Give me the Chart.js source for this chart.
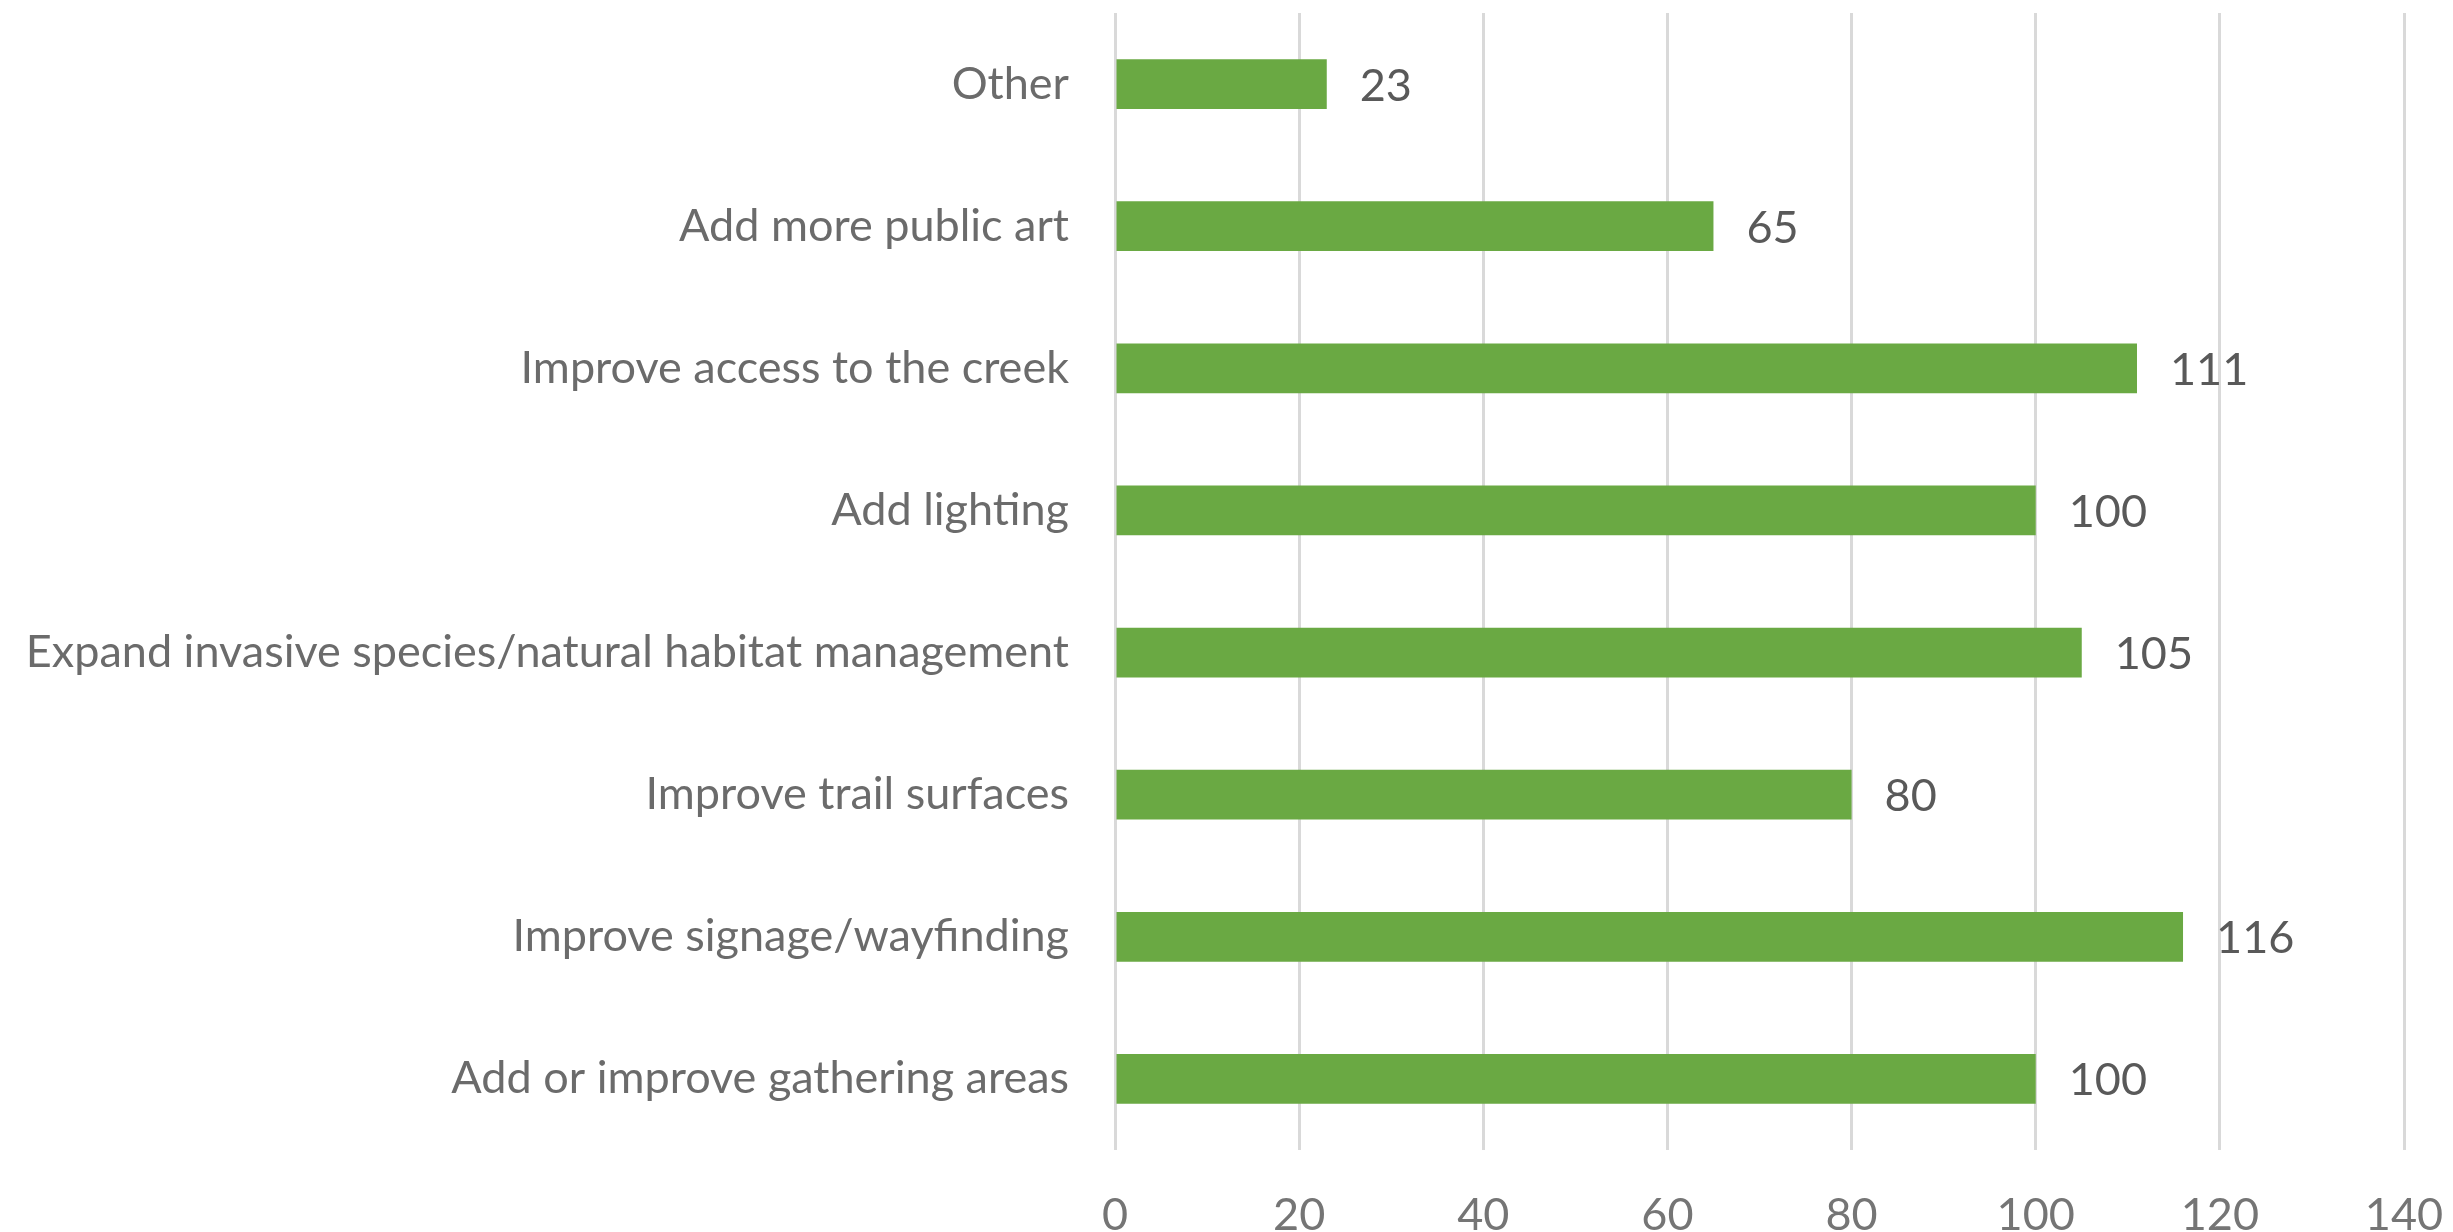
<!DOCTYPE html>
<html>
<head>
<meta charset="utf-8">
<script src="https://cdn.jsdelivr.net/npm/chart.js@4"></script>
<style>
    html, body { margin: 0; padding: 0; background: #fff; }
    #wrap { width: 2453px; height: 1232px; }
</style>
</head>
<body>
<div id="wrap"><canvas id="myChart"></canvas></div>
<script>
const categories = [
    'Other',
    'Add more public art',
    'Improve access to the creek',
    'Add lighting',
    'Expand invasive species/natural habitat management',
    'Improve trail surfaces',
    'Improve signage/wayfinding',
    'Add or improve gathering areas',
];
const values = [23, 65, 111, 100, 105, 80, 116, 100];
const xTicks = [0, 20, 40, 60, 80, 100, 120, 140];

const fontFamily = 'Lato, "Open Sans", sans-serif';

// подписи значений справа от столбцов
const valueLabels = {
    id: 'valueLabels',
    afterDatasetsDraw: (chart) => {
        const ctx = chart.ctx;
        const meta = chart.getDatasetMeta(0);
        ctx.save();
        ctx.font = `45px ${fontFamily}`;
        ctx.fillStyle = '#595959';
        ctx.textAlign = 'left';
        ctx.textBaseline = 'middle';
        meta.data.forEach((bar, i) => {
            ctx.fillText(`${values[i]}`, bar.x + 33, bar.y + 2);
        });
        ctx.restore();
    },
};

const ctx = document.getElementById('myChart');
new Chart(ctx, {
    type: 'bar',
    data: {
        labels: categories,
        datasets: [
            {
                data: values,
                backgroundColor: '#6AA943',
                barPercentage: 0.35,
                categoryPercentage: 1,
            },
        ],
    },
    options: {
        indexAxis: 'y',
        responsive: true,
        maintainAspectRatio: false,
        animation: false,
        layout: {
            padding: { top: 13, right: 49, left: 0, bottom: 0 },
        },
        plugins: {
            legend: { display: false },
            tooltip: { enabled: false },
        },
        scales: {
            x: {
                min: 0,
                max: 140,
                afterBuildTicks: (axis) => {
                    axis.ticks = xTicks.map((v) => ({ value: v }));
                },
                afterFit: (axis) => {
                    axis.height = 82;
                    axis.paddingLeft = 0;
                    axis.paddingRight = 0;
                },
                grid: {
                    color: '#d9d9d9',
                    lineWidth: 3,
                    drawTicks: false,
                },
                border: { display: false },
                ticks: {
                    color: '#757575',
                    padding: 38,
                    maxRotation: 0,
                    font: { size: 45, family: fontFamily },
                },
            },
            y: {
                afterFit: (axis) => {
                    axis.width = 1115;
                    axis.paddingTop = 0;
                    axis.paddingBottom = 0;
                },
                grid: { display: false, drawTicks: false },
                border: { display: false },
                ticks: {
                    color: '#6b6b6b',
                    padding: 46,
                    font: { size: 45, family: fontFamily },
                },
            },
        },
    },
    plugins: [valueLabels],
});
</script>
</body>
</html>
